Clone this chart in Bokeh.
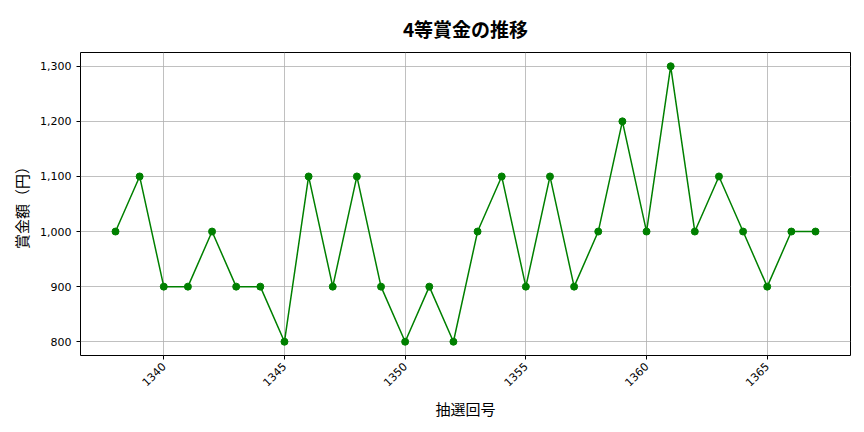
from math import pi

from bokeh.embed import file_html
from bokeh.models import NumeralTickFormatter, SingleIntervalTicker, Range1d
from bokeh.plotting import figure
from bokeh.resources import INLINE

FONT = "Noto Sans CJK JP"

draws = list(range(1338, 1368))
prize = [1000, 1100, 900, 900, 1000, 900, 900, 800, 1100, 900,
         1100, 900, 800, 900, 800, 1000, 1100, 900, 1100, 900,
         1000, 1200, 1000, 1300, 1000, 1100, 1000, 900, 1000, 1000]

p = figure(width=856, height=424,
           x_range=Range1d(1336.55, 1368.45), y_range=Range1d(775, 1325),
           toolbar_location=None, output_backend="svg",
           min_border_left=80, min_border_right=6,
           min_border_top=52, min_border_bottom=69,
           title="4等賞金の推移",
           x_axis_label="抽選回号", y_axis_label="賞金額（円）")

p.line(draws, prize, color="green", line_width=1.5)
p.scatter(draws, prize, color="green", size=7)

p.title.align = "center"
p.title.text_font = FONT
p.title.text_font_size = "19px"
p.title.text_font_style = "bold"
p.title.text_color = "black"
p.title.offset = 0
p.title.standoff = 22

p.xaxis.ticker = SingleIntervalTicker(interval=5)
p.yaxis.ticker = SingleIntervalTicker(interval=100)
p.yaxis.formatter = NumeralTickFormatter(format="0,0")
p.xaxis.major_label_orientation = pi / 4

for ax in (p.xaxis, p.yaxis):
    ax.axis_label_text_font = FONT
    ax.axis_label_text_font_size = "15px"
    ax.axis_label_text_font_style = "normal"
    ax.axis_label_text_color = "black"
    ax.major_label_text_font = "DejaVu Sans"
    ax.major_label_text_font_size = "11px"
    ax.major_label_text_color = "black"
    ax.minor_tick_line_color = None
    ax.axis_line_color = None
    ax.major_tick_line_color = "black"
    ax.major_tick_in = 0
    ax.major_tick_out = 4

p.grid.grid_line_color = "#b0b0b0"
p.grid.grid_line_width = 0.8
p.outline_line_color = "black"
p.outline_line_width = 1

open("out.html", "w").write(file_html(p, INLINE))
